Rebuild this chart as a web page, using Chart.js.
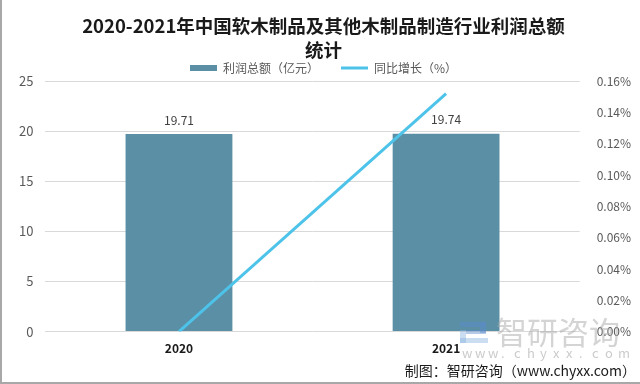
<!DOCTYPE html>
<html>
<head>
<meta charset="utf-8">
<script src="https://cdn.jsdelivr.net/npm/chart.js@4/dist/chart.umd.min.js"></script>
<style>
body { margin: 0; background: #fff; }
#wrap { position: relative; width: 640px; height: 384px; }
</style>
</head>
<body>
<div id="wrap"><canvas id="myChart" width="640" height="384"></canvas></div>
<script>
const years = ['2020', '2021'];
const profit = [19.71, 19.74];      // 利润总额（亿元）
const growth = [0, 0.152];          // 同比增长（%）
const titleLines = ['2020-2021年中国软木制品及其他木制品制造行业利润总额', '统计'];
const seriesNames = ['利润总额（亿元）', '同比增长（%）'];

const FONT = '"Noto Sans CJK SC", "Noto Sans", sans-serif';
const ctx = document.getElementById('myChart').getContext('2d');

// legend sits a little lower than chart.js puts it
const nudgeLegend = {
    id: 'nudgeLegend',
    afterLayout(chart) {
        chart.legend.top += 3;
        chart.legend.bottom += 3;
    }
};

const barLabels = {
    id: 'barLabels',
    afterDatasetsDraw(chart) {
        const c = chart.ctx;
        const meta = chart.getDatasetMeta(1);
        c.save();
        c.font = '12px ' + FONT;
        c.fillStyle = '#404040';
        c.textAlign = 'center';
        c.textBaseline = 'bottom';
        meta.data.forEach((bar, i) => {
            c.fillText(profit[i].toFixed(2), bar.x, bar.y - 8);
        });
        c.restore();
    }
};

const marks = {
    id: 'marks',
    afterDraw(chart) {
        const c = chart.ctx;
        c.save();
        // watermark logo
        c.fillStyle = 'rgba(90,140,205,0.45)';
        c.fillRect(460, 322, 26, 5);
        c.fillRect(480, 322, 6, 11);
        c.fillRect(466, 330, 20, 4);
        c.fillStyle = 'rgba(140,180,225,0.45)';
        c.fillRect(460, 330, 6, 13);
        c.fillRect(460, 338, 28, 5);
        c.font = '31px ' + FONT;
        c.fillStyle = 'rgba(170,170,170,0.5)';
        c.textAlign = 'left';
        c.textBaseline = 'middle';
        c.fillText('智研咨询', 496, 332);
        c.font = '13px ' + FONT;
        c.fillStyle = 'rgba(160,160,160,0.55)';
        const site = 'www.chyxx.com';
        for (let i = 0; i < site.length; i++) {
            c.fillText(site[i], 462 + i * 13, 353);
        }
        // source line
        c.font = '14px ' + FONT;
        c.fillStyle = '#1a1a1a';
        c.textAlign = 'right';
        c.fillText('制图：智研咨询（www.chyxx.com）', 636, 371);
        // frame
        c.fillStyle = '#a8a8a8';
        c.fillRect(0, 0, 2, 384);
        c.fillRect(0, 382, 640, 2);
        c.restore();
    }
};

const myChart = new Chart(ctx, {
    data: {
        labels: years,
        datasets: [{
            type: 'line',
            label: seriesNames[1],
            data: growth,
            yAxisID: 'y1',
            borderColor: '#4ec3ea',
            backgroundColor: '#4ec3ea',
            borderWidth: 3,
            pointRadius: 0,
            pointStyle: 'line',
            order: 0
        }, {
            type: 'bar',
            label: seriesNames[0],
            data: profit,
            yAxisID: 'y',
            backgroundColor: '#5a8fa6',
            pointStyle: 'rect',
            barPercentage: 0.4,
            categoryPercentage: 1,
            order: 1
        }]
    },
    options: {
        responsive: false,
        animation: false,
        layout: { padding: { left: 7, right: 0, top: 0, bottom: 26 } },
        plugins: {
            title: {
                display: true,
                text: titleLines,
                color: '#1a1a1a',
                font: { family: FONT, size: 18.5, weight: 'bold', lineHeight: 24 / 18.5 },
                padding: { top: 14, bottom: -25 }
            },
            legend: {
                reverse: true,
                labels: {
                    usePointStyle: true,
                    pointStyleWidth: 27,
                    boxHeight: 6,
                    padding: 22,
                    color: '#595959',
                    font: { family: FONT, size: 12 }
                }
            },
            tooltip: { enabled: false }
        },
        scales: {
            x: {
                grid: { display: false },
                border: { display: false },
                ticks: {
                    color: '#1a1a1a',
                    padding: 2,
                    font: { family: FONT, size: 12, weight: 'bold' }
                }
            },
            y: {
                position: 'left',
                min: 0,
                max: 25,
                ticks: {
                    stepSize: 5,
                    color: '#595959',
                    padding: 12,
                    font: { family: FONT, size: 13 }
                },
                grid: { color: '#d9d9d9', drawTicks: false },
                border: { display: false }
            },
            y1: {
                position: 'right',
                min: 0,
                max: 0.16,
                ticks: {
                    stepSize: 0.02,
                    color: '#595959',
                    padding: 9,
                    font: { family: FONT, size: 12 },
                    callback: v => v.toFixed(2) + '%'
                },
                grid: { display: false },
                border: { display: false }
            }
        }
    },
    plugins: [nudgeLegend, barLabels, marks]
});
</script>
</body>
</html>
